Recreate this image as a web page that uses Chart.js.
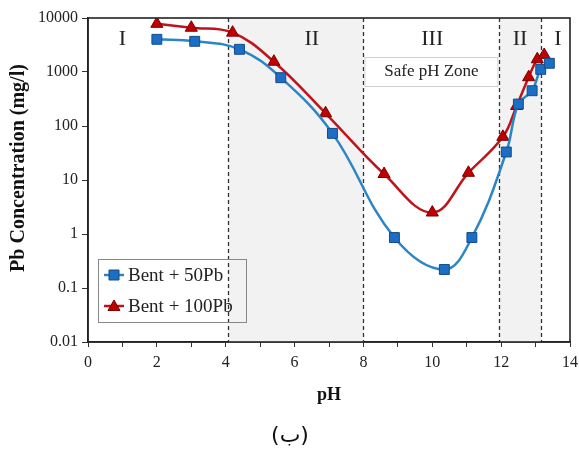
<!DOCTYPE html>
<html><head><meta charset="utf-8">
<script src="https://cdn.jsdelivr.net/npm/chart.js@4"></script>
<style>html,body{margin:0;padding:0;background:#fff}#wrap{width:579px;height:450px;position:relative}canvas{display:block}</style>
</head><body><div id="wrap"><canvas id="c" width="579" height="450" style="width:579px;height:450px"></canvas></div>
<script>
const phBent50 = [2.0, 3.1, 4.4, 5.6, 7.1, 8.9, 10.35, 11.15, 12.15, 12.5, 12.9, 13.15, 13.4];
const pbBent50 = [4030, 3700, 2630, 785, 73, 0.86, 0.22, 0.86, 33, 255, 450, 1120, 1450];
const phBent100 = [2.0, 3.0, 4.2, 5.4, 6.9, 8.6, 10.0, 11.05, 12.05, 12.45, 12.8, 13.05, 13.25];
const pbBent100 = [7800, 6600, 5350, 1550, 172, 12.9, 2.5, 13.6, 63, 235, 800, 1720, 2070];
const seriesNames = ['Bent + 50Pb', 'Bent + 100Pb'];
const xTickLabels = ['0','2','4','6','8','10','12','14'];
const yTickValues = [0.01, 0.1, 1, 10, 100, 1000, 10000];
const yTickLabels = ['0.01','0.1','1','10','100','1000','10000'];
const zoneBounds = [4.07, 8.0, 11.95, 13.17];
const shadedZones = [[4.07, 8.0], [11.95, 13.17]];
const zoneLabels = ['I', 'II', 'III', 'II', 'I'];
const zoneLabelX = [1.0, 6.5, 10.0, 12.55, 13.65];
const safeZoneText = 'Safe pH Zone';
const yTitleText = 'Pb Concentration (mg/l)';
const captionText = '(ب)';

const SERIF = "'Liberation Serif','Times New Roman',serif";

const decor = {
  id: 'decor',
  beforeDatasetsDraw(chart) {
    const {ctx, chartArea: a, scales: {x}} = chart;
    ctx.save();
    ctx.fillStyle = '#f2f2f2';
    shadedZones.forEach(([s, e]) => {
      const x0 = x.getPixelForValue(s), x1 = x.getPixelForValue(e);
      ctx.fillRect(x0, a.top, x1 - x0, a.bottom - a.top);
    });
    ctx.strokeStyle = '#333';
    ctx.lineWidth = 1.3;
    ctx.setLineDash([4, 3]);
    zoneBounds.forEach(v => {
      const px = Math.round(x.getPixelForValue(v)) + 0.5;
      ctx.beginPath(); ctx.moveTo(px, a.top); ctx.lineTo(px, a.bottom); ctx.stroke();
    });
    ctx.setLineDash([]);
    const bx0 = x.getPixelForValue(zoneBounds[1]) + 1, bx1 = x.getPixelForValue(zoneBounds[2]) - 1;
    ctx.fillStyle = '#fff';
    ctx.fillRect(bx0, 57, bx1 - bx0, 29);
    ctx.strokeStyle = '#cfcfcf';
    ctx.lineWidth = 1;
    ctx.strokeRect(bx0 + 0.5, 57.5, bx1 - bx0 - 1, 29);
    ctx.fillStyle = '#222';
    ctx.font = '17px ' + SERIF;
    ctx.textAlign = 'center'; ctx.textBaseline = 'middle';
    ctx.fillText(safeZoneText, (bx0 + bx1) / 2, 72);
    ctx.font = '22px ' + SERIF;
    zoneLabels.forEach((t, i) => ctx.fillText(t, x.getPixelForValue(zoneLabelX[i]), 39));
    ctx.restore();
  },
  afterDatasetsDraw(chart) {
    const {ctx, chartArea: a} = chart;
    ctx.save();
    ctx.strokeStyle = '#222';
    ctx.lineWidth = 1.6;
    ctx.strokeRect(a.left, a.top, a.right - a.left, a.bottom - a.top);
    ctx.strokeStyle = '#888';
    ctx.lineWidth = 1;
    ctx.strokeRect(98.5, 259.5, 148, 63);
    const rows = [275, 306];
    chart.data.datasets.forEach((ds, i) => {
      const y = rows[i];
      ctx.strokeStyle = ds.borderColor;
      ctx.lineWidth = 2.5;
      ctx.beginPath(); ctx.moveTo(104, y); ctx.lineTo(124, y); ctx.stroke();
      ctx.fillStyle = ds.pointBackgroundColor;
      ctx.strokeStyle = ds.pointBorderColor;
      ctx.lineWidth = 1;
      ctx.beginPath();
      if (ds.pointStyle === 'rect') { ctx.rect(109, y - 5, 10, 10); }
      else { ctx.moveTo(114, y - 6); ctx.lineTo(120, y + 4.5); ctx.lineTo(108, y + 4.5); ctx.closePath(); }
      ctx.fill(); ctx.stroke();
      ctx.fillStyle = '#222';
      ctx.font = '19px ' + SERIF;
      ctx.textAlign = 'left'; ctx.textBaseline = 'middle';
      ctx.fillText(ds.label, 128, y + 1);
    });
    // y axis title
    ctx.save();
    ctx.translate(19, 168);
    ctx.rotate(-Math.PI / 2);
    ctx.fillStyle = '#111';
    ctx.font = 'bold 20px ' + SERIF;
    ctx.textAlign = 'center'; ctx.textBaseline = 'middle';
    ctx.fillText(yTitleText, 0, 0);
    ctx.restore();
    // caption
    ctx.direction = 'ltr';
    ctx.fillStyle = '#111';
    ctx.font = "22px 'DejaVu Sans', sans-serif";
    ctx.textAlign = 'center'; ctx.textBaseline = 'middle';
    ctx.fillText(captionText, 290, 436);
    ctx.restore();
  }
};

const toPts = (xs, ys) => xs.map((v, i) => ({x: v, y: ys[i]}));

new Chart(document.getElementById('c'), {
  type: 'line',
  data: {
    datasets: [
      {
        label: seriesNames[0], data: toPts(phBent50, pbBent50),
        borderColor: '#2a86c6', borderWidth: 2.5,
        pointStyle: 'rect', pointRadius: 7, pointBackgroundColor: '#1a6fc4', pointBorderColor: '#184a86', pointBorderWidth: 1,
        tension: 0.4, fill: false
      },
      {
        label: seriesNames[1], data: toPts(phBent100, pbBent100),
        borderColor: '#c0141c', borderWidth: 2.5,
        pointStyle: 'triangle', pointRadius: 7, pointBackgroundColor: '#c00000', pointBorderColor: '#7a0000', pointBorderWidth: 1,
        tension: 0.4, fill: false
      }
    ]
  },
  options: {
    responsive: false, animation: false, devicePixelRatio: 1,
    layout: {padding: {left: 0, right: 9, top: 18, bottom: 44}},
    plugins: {legend: {display: false}, tooltip: {enabled: false}},
    scales: {
      x: {
        type: 'linear', min: 0, max: 14,
        afterFit(s) { s.height = 64; s.paddingRight = 0; s.paddingLeft = 0; },
        afterBuildTicks(s) { s.ticks = []; for (let v = 0; v <= 14; v++) s.ticks.push({value: v}); },
        ticks: {autoSkip: false, maxRotation: 0, padding: 6, color: '#222', font: {family: SERIF, size: 16},
          callback: (v) => (v % 2 === 0 ? xTickLabels[v / 2] : '')},
        grid: {display: true, drawOnChartArea: false, drawTicks: true, tickLength: 5, color: '#333', lineWidth: 1},
        border: {display: true, color: '#222', width: 1.6},
        title: {display: true, text: 'pH', color: '#111', font: {family: SERIF, size: 18, weight: 'bold'}, padding: {top: 0, bottom: 0}}
      },
      y: {
        type: 'logarithmic', min: 0.01, max: 10000,
        afterFit(s) { s.width = 88; s.paddingTop = 0; s.paddingBottom = 0; },
        afterBuildTicks(s) { s.ticks = yTickValues.map(v => ({value: v})); },
        ticks: {autoSkip: false, padding: 4, color: '#222', font: {family: SERIF, size: 16},
          callback: (v) => { const i = yTickValues.indexOf(v); return i >= 0 ? yTickLabels[i] : ''; }},
        grid: {display: true, drawOnChartArea: false, drawTicks: true, tickLength: 6, color: '#333', lineWidth: 1},
        border: {display: true, color: '#222', width: 1.6},
        title: {display: false}
      }
    }
  },
  plugins: [decor]
});
</script></body></html>
